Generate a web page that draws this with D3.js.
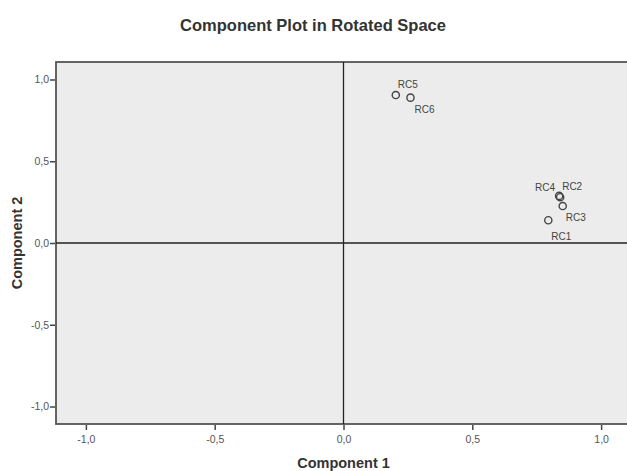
<!DOCTYPE html>
<html>
<head>
<meta charset="utf-8">
<script src="https://cdn.jsdelivr.net/npm/d3@7"></script>
<style>
  body { margin: 0; background: #fff; }
  svg { display: block; font-family: "Liberation Sans", Arial, sans-serif; }
</style>
</head>
<body>
<svg id="chart"></svg>
<script>
// component loadings, rotated space
var names = ["RC1", "RC2", "RC3", "RC4", "RC5", "RC6"]
  , comp1 = [0.795, 0.841, 0.851, 0.837, 0.203, 0.260]
  , comp2 = [0.139, 0.280, 0.226, 0.288, 0.905, 0.889]
  , ticks = [-1.0, -0.5, 0.0, 0.5, 1.0]
  , tickLabels = ["-1,0", "-0,5", "0,0", "0,5", "1,0"]
  // where each label sits around its point (layout only)
  , labelSide = ["below", "upright", "downright", "upleft", "up", "down"]
;

var width = 627
  , height = 471
  , frame = { left: 56, right: 631, top: 62, bottom: 424 }
  , labelOffset = {
        below:     { dx: 3,  dy: 20, anchor: "start" },
        upright:   { dx: 2,  dy: -7, anchor: "start" },
        downright: { dx: 3,  dy: 15, anchor: "start" },
        upleft:    { dx: -4, dy: -5, anchor: "end" },
        up:        { dx: 2,  dy: -7, anchor: "start" },
        down:      { dx: 4,  dy: 15, anchor: "start" }
    }
;

var svg = d3.select("#chart")
    .attr("width", width)
    .attr("height", height)
;

var x = d3.scaleLinear().domain([-1.116, 1.116]).range([frame.left, frame.right])
  , y = d3.scaleLinear().domain([-1.107, 1.107]).range([frame.bottom, frame.top])
;

// plot area
svg.append("rect")
    .attr("x", frame.left)
    .attr("y", frame.top)
    .attr("width", frame.right - frame.left)
    .attr("height", frame.bottom - frame.top)
    .attr("fill", "#ececec")
    .attr("stroke", "#555")
    .attr("stroke-width", 1.8)
;

// axes
var xAxis = d3.axisBottom(x)
    .tickValues(ticks)
    .tickFormat(function(d, i) { return tickLabels[i]; })
    .tickSize(5)
    .tickSizeOuter(0)
;
var yAxis = d3.axisLeft(y)
    .tickValues(ticks)
    .tickFormat(function(d, i) { return tickLabels[i]; })
    .tickSize(5)
    .tickSizeOuter(0)
;

svg.append("g")
    .attr("transform", "translate(0," + (frame.bottom + 1) + ")")
    .call(xAxis)
    .call(function(g) {
        g.select(".domain").remove();
        g.selectAll("line").attr("stroke", "#444").attr("stroke-width", 1.5);
        g.selectAll("text")
            .attr("fill", "#555")
            .attr("font-size", "10.5px")
            .attr("font-family", "'Liberation Sans', Arial, sans-serif")
            .attr("dy", "0.95em");
    })
;
svg.append("g")
    .attr("transform", "translate(" + (frame.left - 1) + ",0)")
    .call(yAxis)
    .call(function(g) {
        g.select(".domain").remove();
        g.selectAll("line").attr("stroke", "#444").attr("stroke-width", 1.5);
        g.selectAll("text")
            .attr("fill", "#555")
            .attr("font-size", "10.5px")
            .attr("font-family", "'Liberation Sans', Arial, sans-serif")
            .attr("x", -6);
    })
;

// reference lines at zero
svg.append("line")
    .attr("x1", frame.left).attr("x2", frame.right)
    .attr("y1", y(0)).attr("y2", y(0))
    .attr("stroke", "#222").attr("stroke-width", 1.3)
;
svg.append("line")
    .attr("x1", x(0)).attr("x2", x(0))
    .attr("y1", frame.top).attr("y2", frame.bottom)
    .attr("stroke", "#222").attr("stroke-width", 1.3)
;

// points
var pts = svg.append("g").selectAll("g")
    .data(names)
  .enter().append("g")
    .attr("transform", function(d, i) {
        return "translate(" + x(comp1[i]) + "," + y(comp2[i]) + ")";
    })
;
pts.append("circle")
    .attr("r", 3.6)
    .attr("fill", "none")
    .attr("stroke", "#444")
    .attr("stroke-width", 1.4)
;
pts.append("text")
    .attr("x", function(d, i) { return labelOffset[labelSide[i]].dx; })
    .attr("y", function(d, i) { return labelOffset[labelSide[i]].dy; })
    .attr("text-anchor", function(d, i) { return labelOffset[labelSide[i]].anchor; })
    .attr("font-size", "10px")
    .attr("fill", "#444")
    .text(function(d) { return d; })
;

// titles
svg.append("text")
    .attr("x", 313)
    .attr("y", 31)
    .attr("text-anchor", "middle")
    .attr("font-size", "16.5px")
    .attr("font-weight", "bold")
    .attr("fill", "#333")
    .text("Component Plot in Rotated Space")
;
svg.append("text")
    .attr("x", x(0))
    .attr("y", 468)
    .attr("text-anchor", "middle")
    .attr("font-size", "14.5px")
    .attr("font-weight", "bold")
    .attr("fill", "#333")
    .text("Component 1")
;
svg.append("text")
    .attr("transform", "translate(22," + y(0) + ") rotate(-90)")
    .attr("text-anchor", "middle")
    .attr("font-size", "14.5px")
    .attr("font-weight", "bold")
    .attr("fill", "#333")
    .text("Component 2")
;
</script>
</body>
</html>
